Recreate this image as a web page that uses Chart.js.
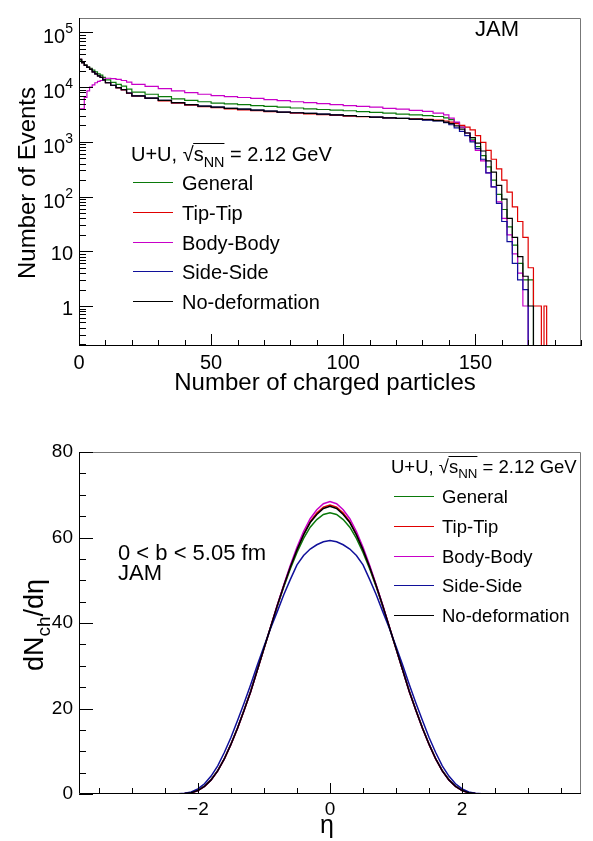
<!DOCTYPE html>
<html>
<head>
<meta charset="utf-8">
<script src="https://cdn.jsdelivr.net/npm/chart.js@4.4.1/dist/chart.umd.min.js"></script>
<style>
html,body{margin:0;padding:0;background:#fff;}
#wrap{position:relative;width:593px;height:841px;}
#c1{position:absolute;left:0;top:0;}
#c2{position:absolute;left:0;top:420px;}
</style>
</head>
<body>
<div id="wrap">
<canvas id="c1" width="593" height="420"></canvas>
<canvas id="c2" width="593" height="421"></canvas>
</div>
<script>
/* SERIES */
const seriesNames = ['General','Tip-Tip','Body-Body','Side-Side','No-deformation']
const seriesColors = ['#0a7a0a','#e00000','#c800c8','#10109a','#000000']

/* TOP: number of charged particles, bin low edges (last one closes the last bin) */
const nchEdges = [0,1,2,3,4,5,6,7,8,9,10,12,14,16,18,20,25,30,35,40,45,50,55,60,65,70,75,80,85,90,95,100,105,110,115,120,125,130,134,138,140,142,144,146,148,150,152,154,156,158,160,162,164,166,168,170,172,174,175,176,177,178,180,190]

const nchGeneral = [100000,31000,28000,25500,23500,22000,20500,19000,17500,16500,
15000,13500,12200,11200,10400,
9200,8100,7400,6700,6100,5700,5400,5100,4950,4800,4600,4450,4300,4150,4000,3900,3800,3700,3550,3450,3350,3200,3100,
3000,2900,
2750,2550,2250,1850,1450,1120,820,560,350,200,110,58,28,13,6,3,3,
0,0,0,0,0,0]
const nchTipTip = [250000,32000,28000,25000,23000,21000,19000,17500,16000,15000,
13500,12000,10700,9700,8900,
7700,6800,6200,5600,5100,4700,4400,4200,4000,3850,3700,3550,3450,3350,3250,3150,3050,2950,2870,2800,2730,2670,2620,
2580,2500,
2400,2300,2150,2000,1850,1650,1300,980,700,480,320,200,120,65,35,18,5,
1,1,0,1,0,0]
const nchBodyBody = [4300,4000,4000,6500,8500,10000,11000,12000,12700,13200,
13800,14500,14300,13800,13200,
12300,11200,10300,9400,8500,7900,7400,7000,6700,6450,6200,5900,5650,5400,5200,5000,4800,4600,4450,4300,4100,3950,3750,
3600,3350,
3100,2700,2300,1850,1450,1050,700,450,270,150,80,40,20,9,4,1,0,
0,0,0,0,0,0]
const nchSideSide = [250000,32000,28000,25000,23000,21000,19000,17500,16000,15000,
13500,12000,10800,9800,9000,
7800,6900,6300,5700,5200,4800,4500,4300,4100,3950,3800,3650,3500,3400,3300,3200,3100,3000,2900,2820,2750,2680,2580,
2500,2400,
2250,2050,1800,1550,1300,1000,750,480,270,150,75,35,15,6,3,2,0,
0,0,0,0,0,0]
const nchNoDef = [250000,32000,28000,25000,23000,21000,19000,17500,16000,15000,
13500,12000,10800,9800,9000,
7800,6900,6300,5700,5200,4800,4500,4300,4100,3950,3800,3650,3500,3400,3300,3200,3100,3000,2900,2820,2750,2680,2600,
2550,2450,
2300,2150,1950,1700,1450,1200,950,680,450,280,160,90,40,18,8,3.5,1,
0,0,0,0,0,0]

/* BOTTOM: dNch/deta */
const etaValues = [-2.5,-2.4,-2.3,-2.2,-2.1,-2,-1.9,-1.8,-1.7,-1.6,-1.5,-1.4,-1.3,-1.2,-1.1,-1,-0.9,-0.8,-0.7,-0.6,-0.5,-0.4,-0.3,-0.2,-0.1,
0,0.1,0.2,0.3,0.4,0.5,0.6,0.7,0.8,0.9,1,1.1,1.2,1.3,1.4,1.5,1.6,1.7,1.8,1.9,2,2.1,2.2,2.3,2.4,2.5]

const etaGeneral = [0,0.01,0.04,0.12,0.35,0.9,1.9,3.4,5.5,8.3,11.7,15.5,19.7,24.1,29.0,34.0,38.9,43.8,48.4,52.7,56.5,59.8,62.4,64.2,65.4,
65.8,65.4,64.2,62.4,59.8,56.5,52.7,48.4,43.8,38.9,34.0,29.0,24.1,19.7,15.5,11.7,8.3,5.5,3.4,1.9,0.9,0.35,0.12,0.04,0.01,0]
const etaTipTip = [0,0.01,0.04,0.1,0.3,0.8,1.8,3.3,5.4,8.2,11.6,15.4,19.6,24.0,29.0,34.0,39.0,44.0,48.7,53.2,57.2,60.8,63.7,65.7,67.1,
67.6,67.1,65.7,63.7,60.8,57.2,53.2,48.7,44.0,39.0,34.0,29.0,24.0,19.6,15.4,11.6,8.2,5.4,3.3,1.8,0.8,0.3,0.1,0.04,0.01,0]
const etaBodyBody = [0,0.01,0.04,0.1,0.3,0.8,1.8,3.3,5.4,8.2,11.6,15.4,19.6,24.0,29.0,34.0,39.0,44.1,48.9,53.5,57.7,61.4,64.4,66.5,67.9,
68.4,67.9,66.5,64.4,61.4,57.7,53.5,48.9,44.1,39.0,34.0,29.0,24.0,19.6,15.4,11.6,8.2,5.4,3.3,1.8,0.8,0.3,0.1,0.04,0.01,0]
const etaSideSide = [0,0.02,0.07,0.2,0.5,1.2,2.4,4.2,6.6,9.7,13.2,17.2,21.3,25.6,30.2,34.5,38.7,42.6,46.6,50.2,53.6,55.8,57.3,58.3,59.0,
59.3,59.0,58.3,57.3,55.8,53.6,50.2,46.6,42.6,38.7,34.5,30.2,25.6,21.3,17.2,13.2,9.7,6.6,4.2,2.4,1.2,0.5,0.2,0.07,0.02,0]
const etaNoDef = [0,0.01,0.04,0.1,0.3,0.8,1.8,3.3,5.4,8.2,11.6,15.4,19.6,24.0,29.0,34.0,39.0,44.0,48.7,53.1,57.1,60.6,63.5,65.4,66.8,
67.3,66.8,65.4,63.5,60.6,57.1,53.1,48.7,44.0,39.0,34.0,29.0,24.0,19.6,15.4,11.6,8.2,5.4,3.3,1.8,0.8,0.3,0.1,0.04,0.01,0]

const nchSeries = [nchGeneral,nchTipTip,nchBodyBody,nchSideSide,nchNoDef]
const etaSeries = [etaGeneral,etaTipTip,etaBodyBody,etaSideSide,etaNoDef]

/* log axis decade labels */
const decadeExps = [0,1,2,3,4,5]

const FONT = '"Liberation Sans", Arial, Helvetica, sans-serif'
const Y1MIN = 0.186, Y1MAX = 1.83e5

/* DRAW HELPERS */
function frame(chart){
  const {ctx, chartArea:a} = chart
  ctx.save()
  ctx.lineWidth = 1
  ctx.strokeStyle = '#777'
  ctx.beginPath()
  ctx.moveTo(a.left, a.top+0.5); ctx.lineTo(a.right-0.5, a.top+0.5); ctx.lineTo(a.right-0.5, a.bottom)
  ctx.stroke()
  ctx.strokeStyle = '#000'
  ctx.beginPath()
  ctx.moveTo(a.left+0.5, a.top); ctx.lineTo(a.left+0.5, a.bottom-0.5); ctx.lineTo(a.right, a.bottom-0.5)
  ctx.stroke()
  ctx.restore()
}
function xTicks(chart, vals, isMajor, big, small){
  const {ctx, chartArea:a} = chart, sc = chart.scales.x
  ctx.save(); ctx.strokeStyle='#000'; ctx.lineWidth=1; ctx.beginPath()
  vals.forEach(v=>{
    const px = Math.round(sc.getPixelForValue(v))+0.5
    ctx.moveTo(px, a.bottom); ctx.lineTo(px, a.bottom-(isMajor(v)?big:small))
  })
  ctx.stroke(); ctx.restore()
}
function yTicks(chart, vals, isMajor, big, small){
  const {ctx, chartArea:a} = chart, sc = chart.scales.y
  ctx.save(); ctx.strokeStyle='#000'; ctx.lineWidth=1; ctx.beginPath()
  vals.forEach(v=>{
    const py = Math.round(sc.getPixelForValue(v))+0.5
    ctx.moveTo(a.left, py); ctx.lineTo(a.left+(isMajor(v)?big:small), py)
  })
  ctx.stroke(); ctx.restore()
}
function energy(ctx, x, y, size){
  ctx.font = size+'px '+FONT
  ctx.fillText('U+U, ', x, y); x += ctx.measureText('U+U, ').width
  ctx.fillText('\u221a', x, y); x += ctx.measureText('\u221a').width
  const x0 = x
  ctx.fillText('s', x, y); x += ctx.measureText('s').width
  ctx.font = (size*0.72).toFixed(1)+'px '+FONT
  ctx.fillText('NN', x, y+size*0.28); x += ctx.measureText('NN').width
  ctx.fillRect(x0-0.5, Math.round(y-size*0.9), x-x0+0.5, 1)
  ctx.font = size+'px '+FONT
  ctx.fillText(' = 2.12 GeV', x, y)
}
function legend(ctx, lx0, lx1, tx, y0, dy, size){
  ctx.font = size+'px '+FONT
  seriesNames.forEach((n,i)=>{
    const y = Math.round(y0+i*dy)+0.5
    ctx.strokeStyle = seriesColors[i]; ctx.lineWidth = 1
    ctx.beginPath(); ctx.moveTo(lx0,y); ctx.lineTo(lx1,y); ctx.stroke()
    ctx.fillStyle = '#000'
    ctx.fillText(n, tx, y+size*0.36)
  })
}
// 10^n labels with a real superscript, placed by the log scale
function decadeLabels(chart, right){
  const ctx = chart.ctx, sc = chart.scales.y
  ctx.save(); ctx.fillStyle = '#000'; ctx.textAlign = 'right'; ctx.textBaseline = 'alphabetic'
  decadeExps.forEach(e=>{
    const py = sc.getPixelForValue(Math.pow(10,e))
    if(e<2){
      ctx.font = '20px '+FONT
      ctx.fillText(e===0 ? '1' : '10', right, py+8.5)
    } else {
      ctx.font = '14px '+FONT
      ctx.fillText(String(e), right, py+1)
      const w = ctx.measureText(String(e)).width
      ctx.font = '20px '+FONT
      ctx.fillText('10', right-w, py+11)
    }
  })
  ctx.restore()
}

/* TOP CHART */
const topExtras = {
  id:'topExtras',
  afterDraw(chart){
    const ctx = chart.ctx
    frame(chart)
    const xs = []; for(let v=0; v<=190; v+=10) xs.push(v)
    xTicks(chart, xs, v=>v%50===0, 12, 6)
    const ys = []
    for(let e=-1; e<=5; e++) for(let k=1; k<=9; k++){ const v=k*Math.pow(10,e); if(v>=Y1MIN && v<=Y1MAX) ys.push(v) }
    yTicks(chart, ys, v=>Math.abs(Math.log10(v)-Math.round(Math.log10(v)))<1e-9, 14, 7)
    decadeLabels(chart, 73)
    ctx.save()
    ctx.fillStyle = '#000'; ctx.textBaseline = 'alphabetic'
    ctx.font = '22px '+FONT; ctx.fillText('JAM', 475, 36)
    energy(ctx, 131, 161, 20)
    legend(ctx, 133, 173, 182, 182, 29.8, 20)
    ctx.fillStyle = '#000'
    ctx.font = '24px '+FONT; ctx.textAlign = 'center'
    ctx.fillText('Number of charged particles', 325, 390)
    ctx.translate(35, 183); ctx.rotate(-Math.PI/2)
    ctx.fillText('Number of Events', 0, 0)
    ctx.restore()
  }
}

new Chart(document.getElementById('c1'), {
  type:'line',
  data:{datasets: seriesNames.map((name,i)=>({
    label:name,
    data: nchEdges.map((x,j)=>{
      const v = nchSeries[i][Math.min(j, nchSeries[i].length-1)]
      return {x, y: v>0 ? v : Y1MIN}
    }),
    borderColor: seriesColors[i], borderWidth:1.2, pointRadius:0, stepped:'after', fill:false, order:5-i
  }))},
  options:{
    responsive:false, animation:false, devicePixelRatio:1,
    layout:{padding:{top:4,right:12,left:0,bottom:0}},
    plugins:{legend:{display:false}, tooltip:{enabled:false}},
    scales:{
      x:{type:'linear', min:0, max:190,
        grid:{display:false, drawTicks:false}, border:{display:false},
        ticks:{stepSize:50, includeBounds:false, autoSkip:false, maxRotation:0, padding:5, color:'#000', font:{family:FONT, size:20}},
        afterFit(s){ s.height = 74 }},
      y:{type:'logarithmic', min:Y1MIN, max:Y1MAX,
        grid:{display:false, drawTicks:false}, border:{display:false},
        ticks:{autoSkip:false, padding:6, font:{family:FONT, size:20}, callback(){ return '' }},
        afterFit(s){ s.width = 79 }}
    }
  },
  plugins:[topExtras]
})

/* BOTTOM CHART */
const bottomExtras = {
  id:'bottomExtras',
  afterDraw(chart){
    const ctx = chart.ctx
    frame(chart)
    const xs = []; for(let v=-3.5; v<=3.5; v+=0.5) xs.push(v)
    xTicks(chart, xs, v=>Math.abs(v%2)<1e-9, 11, 6)
    const ys = []; for(let v=0; v<=80; v+=5) ys.push(v)
    yTicks(chart, ys, v=>v%20===0, 14, 7)
    ctx.save()
    ctx.fillStyle = '#000'; ctx.textBaseline = 'alphabetic'
    energy(ctx, 391, 53, 18.5)
    legend(ctx, 394, 434, 442, 76, 29.8, 18.5)
    ctx.fillStyle = '#000'
    ctx.font = '22px '+FONT
    ctx.fillText('0 < b < 5.05 fm', 118, 140)
    ctx.fillText('JAM', 118, 160)
    ctx.font = '25px '+FONT; ctx.textAlign = 'center'
    ctx.fillText('\u03b7', 327, 413)
    // y title dN_ch/deta
    ctx.translate(43, 205); ctx.rotate(-Math.PI/2)
    ctx.textAlign = 'left'
    const s = 27
    ctx.font = s+'px '+FONT
    const w1 = ctx.measureText('dN').width
    ctx.font = (s*0.7).toFixed(1)+'px '+FONT
    const w2 = ctx.measureText('ch').width
    ctx.font = s+'px '+FONT
    const w3 = ctx.measureText('/d\u03b7').width
    let x = -(w1+w2+w3)/2
    ctx.fillText('dN', x, 0); x += w1
    ctx.font = (s*0.7).toFixed(1)+'px '+FONT
    ctx.fillText('ch', x, s*0.25); x += w2
    ctx.font = s+'px '+FONT
    ctx.fillText('/d\u03b7', x, 0)
    ctx.restore()
  }
}

new Chart(document.getElementById('c2'), {
  type:'line',
  data:{datasets: seriesNames.map((name,i)=>({
    label:name,
    data: etaValues.map((x,j)=>({x, y: etaSeries[i][j]})),
    borderColor: seriesColors[i], borderWidth:1.5, pointRadius:0, fill:false, tension:0, order:5-i
  }))},
  options:{
    responsive:false, animation:false, devicePixelRatio:1,
    layout:{padding:{top:32,right:12,left:0,bottom:0}},
    plugins:{legend:{display:false}, tooltip:{enabled:false}},
    scales:{
      x:{type:'linear', min:-3.8, max:3.8,
        grid:{display:false, drawTicks:false}, border:{display:false},
        ticks:{stepSize:2, includeBounds:false, autoSkip:false, maxRotation:0, padding:4, color:'#000', font:{family:FONT, size:19},
          callback(v){ return v<0 ? '\u2212'+Math.abs(v) : String(v) }},
        afterFit(s){ s.height = 47 }},
      y:{type:'linear', min:0, max:80,
        grid:{display:false, drawTicks:false}, border:{display:false},
        ticks:{stepSize:20, autoSkip:false, padding:6, color:'#000', font:{family:FONT, size:19}},
        afterFit(s){ s.width = 79 }}
    }
  },
  plugins:[bottomExtras]
})
</script>
</body>
</html>
